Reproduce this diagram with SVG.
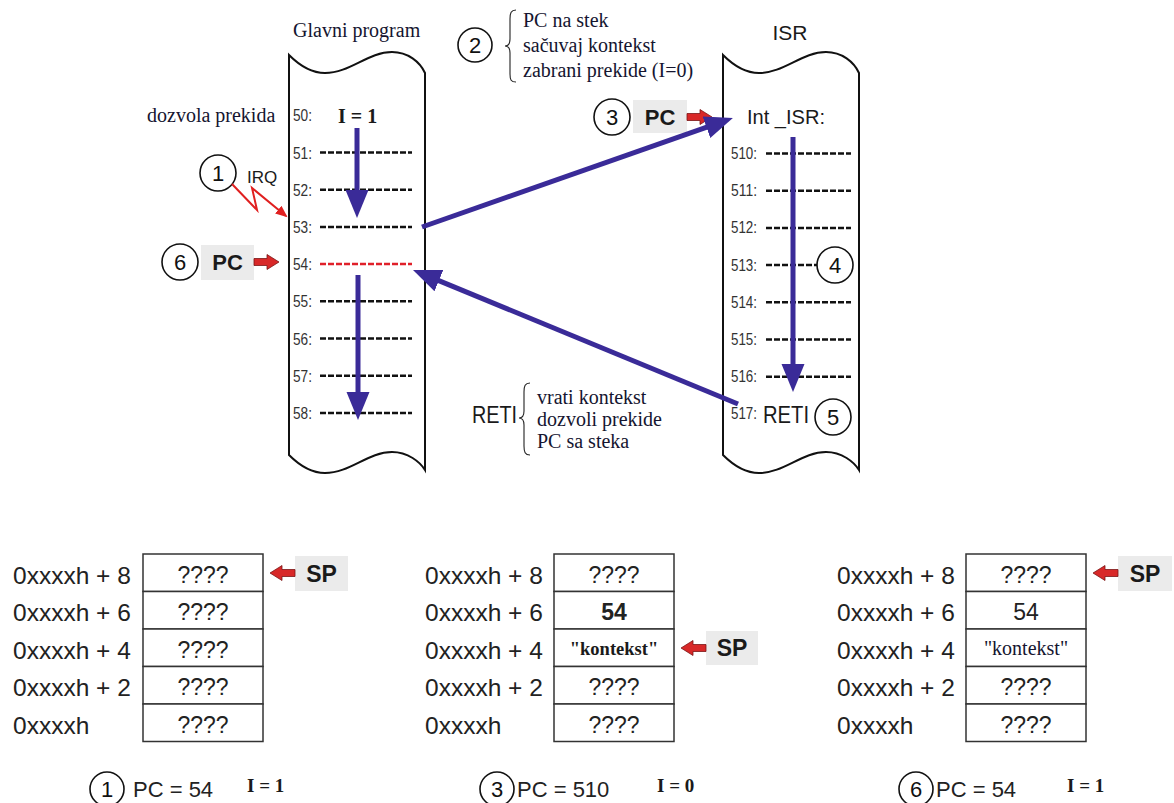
<svg xmlns="http://www.w3.org/2000/svg" width="1174" height="803" viewBox="0 0 1174 803">
<defs>
<style>
.serif{font-family:"Liberation Serif","Times New Roman",serif;font-size:20px;fill:#151530}
.sans{font-family:"Liberation Sans",Arial,sans-serif;fill:#1a1a1a}
.ln{font-family:"Liberation Sans",Arial,sans-serif;font-size:17px;fill:#333}
.dash{stroke:#111;stroke-width:2.5;stroke-dasharray:6 2;fill:none}
.dashred{stroke:#e0202a;stroke-width:2.5;stroke-dasharray:6 2;fill:none}
.scroll{fill:#fff;stroke:#111;stroke-width:2}
.circ{fill:#fff;stroke:#111;stroke-width:1.6}
.cnum{font-family:"Liberation Sans",Arial,sans-serif;font-size:22px;text-anchor:middle;fill:#111}
.blue{stroke:#3a2b98;stroke-width:5;fill:none;marker-end:url(#bh)}
.gbox{fill:#ebebeb}
.pc{font-family:"Liberation Sans",Arial,sans-serif;font-weight:bold;font-size:22px;text-anchor:middle;fill:#1a1a1a}
.cell{fill:#fff;stroke:#333;stroke-width:1.5}
.addr{font-family:"Liberation Sans",Arial,sans-serif;font-size:24.5px;fill:#222}
.val{font-family:"Liberation Sans",Arial,sans-serif;font-size:23px;fill:#222;text-anchor:middle}
.brace{fill:none;stroke:#222;stroke-width:1.1}
.ra{fill:#d82828;stroke:#7a1515;stroke-width:0.8}
.bI{font-family:"Liberation Serif","Times New Roman",serif;font-weight:bold;font-size:19px;fill:#1a1a1a}
.cap{font-family:"Liberation Sans",Arial,sans-serif;font-size:22px;fill:#222}
</style>
<marker id="bh" markerUnits="userSpaceOnUse" markerWidth="30" markerHeight="24" refX="8" refY="11.5" orient="auto" viewBox="0 0 30 24"><path d="M0,0 L28,11.5 L0,23 z" fill="#3a2b98"/></marker>
<marker id="rh" markerUnits="userSpaceOnUse" markerWidth="14" markerHeight="12" refX="10" refY="5" orient="auto" viewBox="0 0 14 12"><path d="M0,0 L12,5 L0,10 z" fill="#e02020"/></marker>
<path id="rarr" d="M0,-3.5 H13 V-7.5 L25,0 L13,7.5 V3.5 H0 Z"/>
</defs>

<!-- Main program scroll -->
<g id="main-program">
<text class="serif" x="293" y="37">Glavni program</text>
<path class="scroll" d="M289,55 C300,66 312,73 325,73 C350,73 368,52 392,52 C408,52 420,62 425,73 L425,470 C420,462 408,452 392,452 C368,452 350,473 325,473 C312,473 300,466 289,455 Z"/>
<text class="ln" x="293" y="121" textLength="19" lengthAdjust="spacingAndGlyphs">50:</text>
<text class="ln" x="293" y="158.5" textLength="19" lengthAdjust="spacingAndGlyphs">51:</text>
<text class="ln" x="293" y="195.7" textLength="19" lengthAdjust="spacingAndGlyphs">52:</text>
<text class="ln" x="293" y="232.9" textLength="19" lengthAdjust="spacingAndGlyphs">53:</text>
<text class="ln" x="293" y="270.1" textLength="19" lengthAdjust="spacingAndGlyphs">54:</text>
<text class="ln" x="293" y="307.3" textLength="19" lengthAdjust="spacingAndGlyphs">55:</text>
<text class="ln" x="293" y="344.5" textLength="19" lengthAdjust="spacingAndGlyphs">56:</text>
<text class="ln" x="293" y="381.7" textLength="19" lengthAdjust="spacingAndGlyphs">57:</text>
<text class="ln" x="293" y="418.9" textLength="19" lengthAdjust="spacingAndGlyphs">58:</text>
<text class="bI" x="338" y="123" style="font-size:20px">I = 1</text>
<line class="dash" x1="320" y1="152.5" x2="412" y2="152.5"/>
<line class="dash" x1="320" y1="189.7" x2="412" y2="189.7"/>
<line class="dash" x1="320" y1="226.9" x2="412" y2="226.9"/>
<line class="dashred" x1="320" y1="264.1" x2="412" y2="264.1"/>
<line class="dash" x1="320" y1="301.3" x2="412" y2="301.3"/>
<line class="dash" x1="320" y1="338.5" x2="412" y2="338.5"/>
<line class="dash" x1="320" y1="375.7" x2="412" y2="375.7"/>
<line class="dash" x1="320" y1="412.9" x2="412" y2="412.9"/>
</g>

<g id="label-dozvola">
<text class="serif" x="147" y="122">dozvola prekida</text>
</g>

<g id="irq">
<circle class="circ" cx="218" cy="173" r="18"/>
<text class="cnum" x="218" y="181">1</text>
<text class="sans" x="247" y="183" style="font-size:17px">IRQ</text>
<polyline points="232,184 257,210 252,188 286,216" fill="none" stroke="#e02020" stroke-width="2" marker-end="url(#rh)"/>
</g>

<g id="pc6">
<circle class="circ" cx="180" cy="262" r="18"/>
<text class="cnum" x="180" y="270">6</text>
<rect class="gbox" x="201" y="245" width="53" height="35"/>
<text class="pc" x="227.5" y="270">PC</text>
<use href="#rarr" class="ra" transform="translate(254,262)"/>
</g>

<g id="step2">
<circle class="circ" cx="475" cy="45" r="17"/>
<text class="cnum" x="475" y="53">2</text>
<path class="brace" d="M516,10 C511,10 510,13 510,19 L510,39 C510,44 508,46 505,46 C508,46 510,48 510,53 L510,74 C510,80 511,82 516,82"/>
<text class="serif" x="523" y="27">PC na stek</text>
<text class="serif" x="523" y="52">sačuvaj kontekst</text>
<text class="serif" x="523" y="77">zabrani prekide (I=0)</text>
</g>

<g id="pc3">
<circle class="circ" cx="612" cy="117" r="18"/>
<text class="cnum" x="612" y="125">3</text>
<rect class="gbox" x="633" y="100" width="54" height="33"/>
<text class="pc" x="660" y="125">PC</text>
<use href="#rarr" class="ra" transform="translate(687,117)"/>
</g>

<!-- ISR scroll -->
<g id="isr">
<text class="sans" x="790" y="40" style="font-size:21px" text-anchor="middle">ISR</text>
<path class="scroll" d="M723,55 C734,66 746,73 759,73 C784,73 802,52 826,52 C842,52 854,62 859,73 L859,470 C854,462 842,452 826,452 C802,452 784,473 759,473 C746,473 734,466 723,455 Z"/>
<text class="sans" x="747" y="124" style="font-size:21px" textLength="78" lengthAdjust="spacingAndGlyphs">Int _ISR:</text>
<text class="ln" x="731" y="159" textLength="26" lengthAdjust="spacingAndGlyphs">510:</text>
<text class="ln" x="731" y="196.2" textLength="26" lengthAdjust="spacingAndGlyphs">511:</text>
<text class="ln" x="731" y="233.4" textLength="26" lengthAdjust="spacingAndGlyphs">512:</text>
<text class="ln" x="731" y="270.6" textLength="26" lengthAdjust="spacingAndGlyphs">513:</text>
<text class="ln" x="731" y="307.8" textLength="26" lengthAdjust="spacingAndGlyphs">514:</text>
<text class="ln" x="731" y="345" textLength="26" lengthAdjust="spacingAndGlyphs">515:</text>
<text class="ln" x="731" y="382.2" textLength="26" lengthAdjust="spacingAndGlyphs">516:</text>
<text class="ln" x="731" y="419.4" textLength="26" lengthAdjust="spacingAndGlyphs">517:</text>
<line class="dash" x1="766" y1="153.5" x2="851" y2="153.5"/>
<line class="dash" x1="766" y1="190.7" x2="851" y2="190.7"/>
<line class="dash" x1="766" y1="227.9" x2="851" y2="227.9"/>
<line class="dash" x1="766" y1="265.1" x2="851" y2="265.1"/>
<line class="dash" x1="766" y1="302.3" x2="851" y2="302.3"/>
<line class="dash" x1="766" y1="339.5" x2="851" y2="339.5"/>
<line class="dash" x1="766" y1="376.7" x2="851" y2="376.7"/>
<text class="sans" x="763" y="423" style="font-size:23px" textLength="46" lengthAdjust="spacingAndGlyphs">RETI</text>
</g>

<!-- connectors -->
<g id="connectors">
<line class="blue" x1="357" y1="128" x2="357" y2="198"/>
<line class="blue" x1="358" y1="275" x2="358" y2="400"/>
<line class="blue" x1="422" y1="227" x2="714" y2="124.6"/>
<line class="blue" x1="793" y1="137" x2="793" y2="372"/>
<line class="blue" x1="738" y1="404" x2="431.5" y2="277.6"/>
</g>

<g id="step4">
<circle class="circ" cx="835" cy="265" r="18"/>
<text class="cnum" x="835" y="273">4</text>
</g>
<g id="step5">
<circle class="circ" cx="833" cy="417" r="18"/>
<text class="cnum" x="833" y="425">5</text>
</g>

<g id="reti-note">
<text class="sans" x="472" y="423" style="font-size:23px" textLength="45" lengthAdjust="spacingAndGlyphs">RETI</text>
<path class="brace" d="M530,383 C525,383 524,386 524,392 L524,411 C524,416 522,418 519,418 C522,418 524,420 524,425 L524,446 C524,452 525,455 530,455"/>
<text class="serif" x="537" y="404">vrati kontekst</text>
<text class="serif" x="537" y="426">dozvoli prekide</text>
<text class="serif" x="537" y="448">PC sa steka</text>
</g>

<!-- Stack 1 -->
<g id="stack1">
<text class="addr" x="13" y="584">0xxxxh + 8</text>
<text class="addr" x="13" y="621">0xxxxh + 6</text>
<text class="addr" x="13" y="659">0xxxxh + 4</text>
<text class="addr" x="13" y="696">0xxxxh + 2</text>
<text class="addr" x="13" y="734">0xxxxh</text>
<rect class="cell" x="143" y="554" width="120" height="37.5"/>
<rect class="cell" x="143" y="591.5" width="120" height="37.5"/>
<rect class="cell" x="143" y="629" width="120" height="37.5"/>
<rect class="cell" x="143" y="666.5" width="120" height="37.5"/>
<rect class="cell" x="143" y="704" width="120" height="37.5"/>
<text class="val" x="203" y="583">????</text>
<text class="val" x="203" y="620">????</text>
<text class="val" x="203" y="658">????</text>
<text class="val" x="203" y="695">????</text>
<text class="val" x="203" y="733">????</text>
<rect class="gbox" x="295" y="556" width="53" height="35"/>
<text class="pc" x="321.5" y="582" style="font-size:23px">SP</text>
<use href="#rarr" class="ra" transform="translate(295,573) scale(-1,1)"/>
<circle class="circ" cx="107" cy="789" r="17"/>
<text class="cnum" x="107" y="797">1</text>
<text class="cap" x="133" y="797">PC = 54</text>
<text class="bI" x="247" y="792">I = 1</text>
</g>

<!-- Stack 2 -->
<g id="stack2">
<text class="addr" x="425" y="584">0xxxxh + 8</text>
<text class="addr" x="425" y="621">0xxxxh + 6</text>
<text class="addr" x="425" y="659">0xxxxh + 4</text>
<text class="addr" x="425" y="696">0xxxxh + 2</text>
<text class="addr" x="425" y="734">0xxxxh</text>
<rect class="cell" x="554" y="554" width="120" height="37.5"/>
<rect class="cell" x="554" y="591.5" width="120" height="37.5"/>
<rect class="cell" x="554" y="629" width="120" height="37.5"/>
<rect class="cell" x="554" y="666.5" width="120" height="37.5"/>
<rect class="cell" x="554" y="704" width="120" height="37.5"/>
<text class="val" x="614" y="583">????</text>
<text class="val" x="614" y="620" style="font-weight:bold">54</text>
<text class="bI" x="614" y="655" text-anchor="middle" style="font-size:18.5px">"kontekst"</text>
<text class="val" x="614" y="695">????</text>
<text class="val" x="614" y="733">????</text>
<rect class="gbox" x="706" y="631" width="52" height="34"/>
<text class="pc" x="732" y="656" style="font-size:23px">SP</text>
<use href="#rarr" class="ra" transform="translate(706,648) scale(-1,1)"/>
<circle class="circ" cx="497" cy="789" r="17"/>
<text class="cnum" x="497" y="797">3</text>
<text class="cap" x="517" y="797">PC = 510</text>
<text class="bI" x="657" y="792">I = 0</text>
</g>

<!-- Stack 3 -->
<g id="stack3">
<text class="addr" x="837" y="584">0xxxxh + 8</text>
<text class="addr" x="837" y="621">0xxxxh + 6</text>
<text class="addr" x="837" y="659">0xxxxh + 4</text>
<text class="addr" x="837" y="696">0xxxxh + 2</text>
<text class="addr" x="837" y="734">0xxxxh</text>
<rect class="cell" x="966" y="554" width="120" height="37.5"/>
<rect class="cell" x="966" y="591.5" width="120" height="37.5"/>
<rect class="cell" x="966" y="629" width="120" height="37.5"/>
<rect class="cell" x="966" y="666.5" width="120" height="37.5"/>
<rect class="cell" x="966" y="704" width="120" height="37.5"/>
<text class="val" x="1026" y="583">????</text>
<text class="val" x="1026" y="620">54</text>
<text class="serif" x="1026" y="655" text-anchor="middle">"kontekst"</text>
<text class="val" x="1026" y="695">????</text>
<text class="val" x="1026" y="733">????</text>
<rect class="gbox" x="1118" y="556" width="54" height="35"/>
<text class="pc" x="1145" y="582" style="font-size:23px">SP</text>
<use href="#rarr" class="ra" transform="translate(1118,573) scale(-1,1)"/>
<circle class="circ" cx="916" cy="789" r="17"/>
<text class="cnum" x="916" y="797">6</text>
<text class="cap" x="936" y="797">PC = 54</text>
<text class="bI" x="1067" y="792">I = 1</text>
</g>
</svg>
